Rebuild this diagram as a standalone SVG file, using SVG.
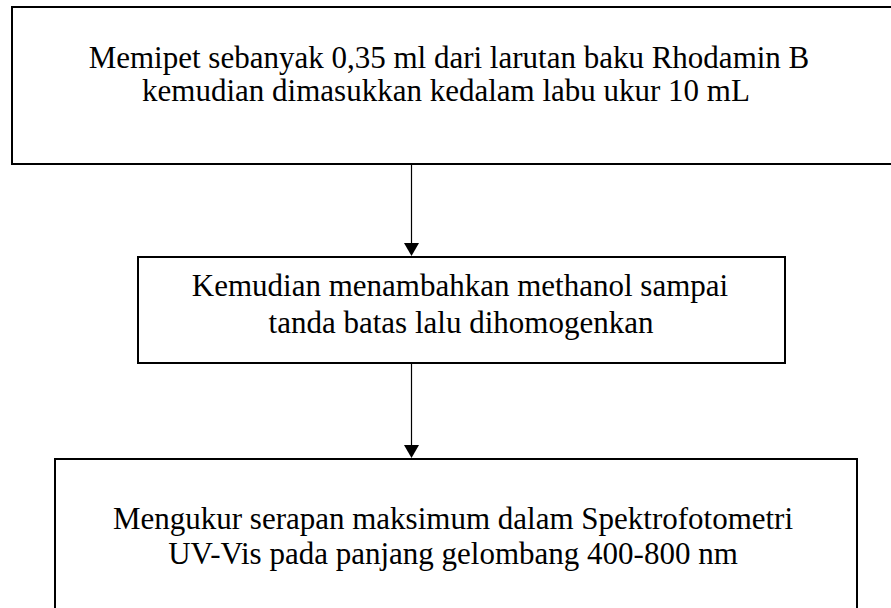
<svg xmlns="http://www.w3.org/2000/svg" width="891" height="608" viewBox="0 0 891 608">
  <style>
    .box { fill: #ffffff; stroke: #000000; stroke-width: 2; }
    .lbl { font-family: "Liberation Serif", "Times New Roman", serif; font-size: 31px; fill: #000000; text-anchor: middle; }
    .conn { stroke: #000000; stroke-width: 1.2; fill: none; }
    .head { fill: #000000; }
  </style>
  <rect x="0" y="0" width="891" height="608" fill="#ffffff"/>
  <g id="node1">
    <rect class="box" x="12" y="7" width="890" height="157"/>
    <text class="lbl" x="449" y="68">Memipet sebanyak 0,35 ml dari larutan baku Rhodamin B</text>
    <text class="lbl" x="446" y="101">kemudian dimasukkan kedalam labu ukur 10 mL</text>
  </g>
  <g id="node2">
    <rect class="box" x="138" y="257" width="647" height="106"/>
    <text class="lbl" x="460" y="296">Kemudian menambahkan methanol sampai</text>
    <text class="lbl" x="461" y="333">tanda batas lalu dihomogenkan</text>
  </g>
  <g id="node3">
    <rect class="box" x="55" y="459" width="802" height="170"/>
    <text class="lbl" x="453" y="529">Mengukur serapan maksimum dalam Spektrofotometri</text>
    <text class="lbl" x="453" y="564">UV-Vis pada panjang gelombang 400-800 nm</text>
  </g>
  <g id="connectors">
    <line class="conn" x1="411.5" y1="165" x2="411.5" y2="244"/>
    <polygon class="head" points="404,243 419,243 411.5,256"/>
    <line class="conn" x1="411.5" y1="364" x2="411.5" y2="446"/>
    <polygon class="head" points="404,445 419,445 411.5,458"/>
  </g>
</svg>
